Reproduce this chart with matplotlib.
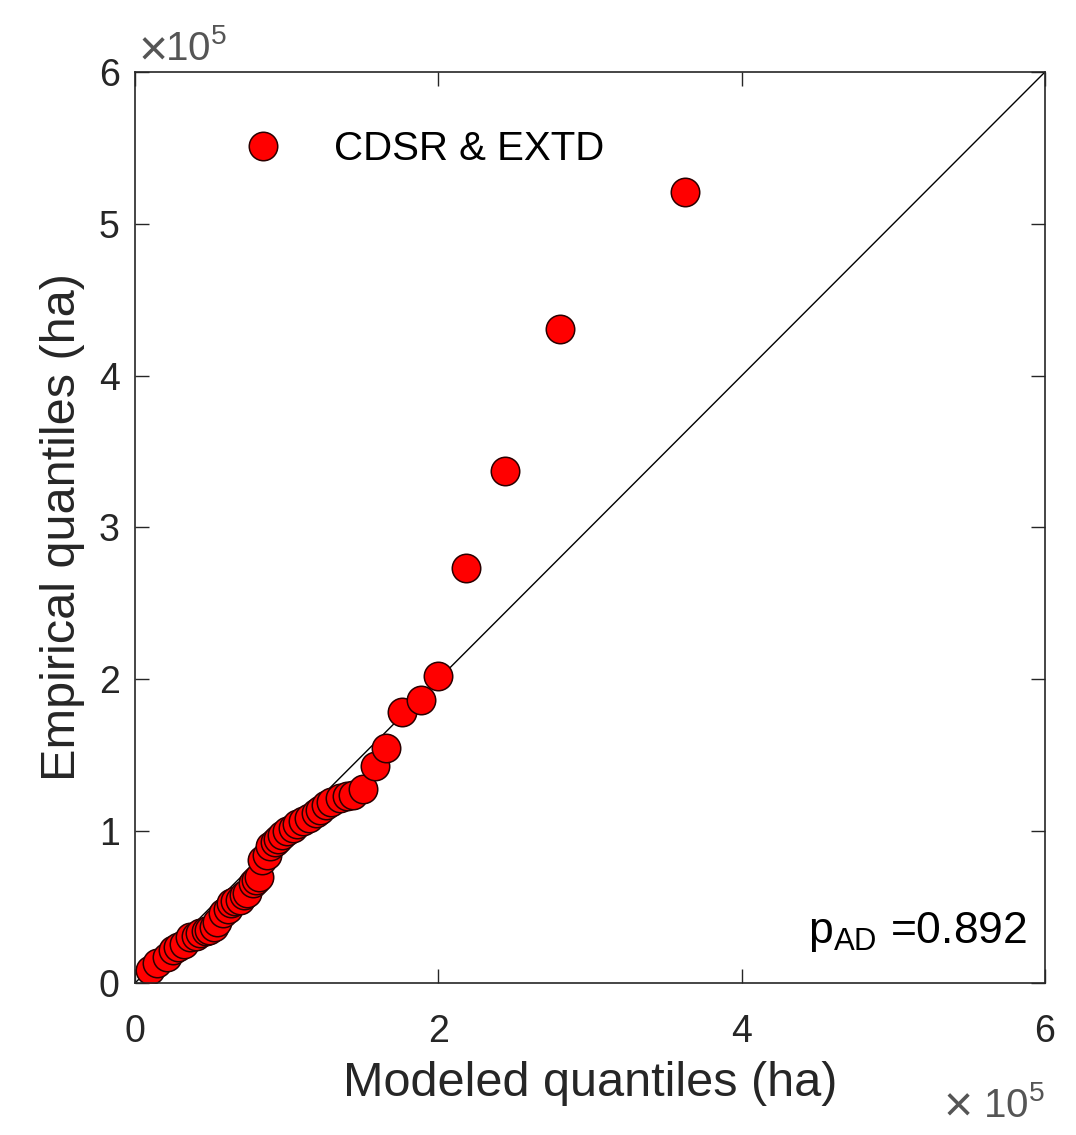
import matplotlib.pyplot as plt

plt.rcParams['font.family'] = ['Liberation Sans', 'DejaVu Sans']
plt.rcParams['mathtext.fontset'] = 'custom'
plt.rcParams['mathtext.rm'] = 'Liberation Sans'

# quantile pairs, in units of 1e5 ha
modeled = [0.10, 0.145, 0.21, 0.25, 0.28, 0.32, 0.36, 0.40, 0.43, 0.47, 0.49, 0.52,
           0.54, 0.58, 0.61, 0.63, 0.66, 0.69, 0.72, 0.74, 0.78, 0.80, 0.82, 0.84,
           0.87, 0.89, 0.92, 0.94, 0.97, 1.00, 1.04, 1.07, 1.11, 1.15, 1.19, 1.22,
           1.26, 1.29, 1.35, 1.40, 1.44, 1.50, 1.58, 1.655, 1.76, 1.885, 2.00,
           2.18, 2.44, 2.80, 3.626]
empirical = [0.085, 0.13, 0.17, 0.22, 0.24, 0.26, 0.30, 0.31, 0.33, 0.34, 0.35, 0.37,
             0.40, 0.46, 0.49, 0.53, 0.54, 0.55, 0.58, 0.59, 0.66, 0.68, 0.70, 0.81,
             0.84, 0.90, 0.93, 0.95, 0.975, 1.00, 1.02, 1.05, 1.07, 1.09, 1.12, 1.14,
             1.17, 1.19, 1.22, 1.23, 1.24, 1.28, 1.43, 1.55, 1.785, 1.864, 2.02,
             2.73, 3.37, 4.31, 5.211]
p_ad = 0.892

grey = '#262626'
exp_grey = '#555555'

fig = plt.figure(figsize=(10.76, 11.35), dpi=100)
ax = fig.add_axes([0.1255, 0.1339, 0.8457, 0.8027])

ax.plot([0, 6], [0, 6], color='black', lw=1.0, zorder=1)
ax.plot(modeled, empirical, 'o', ls='none', ms=20.5, mfc='#ff0000', mec='#2a0000',
        mew=1.1, label='CDSR & EXTD', zorder=2)

ax.set_xlim(0, 6)
ax.set_ylim(0, 6)
ax.set_xticks([0, 2, 4, 6])
ax.set_yticks([0, 1, 2, 3, 4, 5, 6])
ax.tick_params(direction='in', length=10, width=1.0, top=True, right=True,
               labelsize=27, colors=grey)
ax.tick_params(axis='x', pad=22)
ax.tick_params(axis='y', pad=11)
for s in ax.spines.values():
    s.set_color(grey)
    s.set_linewidth(1.2)

ax.set_xlabel('Modeled quantiles (ha)', fontsize=35, color=grey, labelpad=8)
ax.set_ylabel('Empirical quantiles (ha)', fontsize=35, color=grey, labelpad=10)

# exponent labels: a large cross followed by 10^5
ax.text(0.033, 1.013, '10$^{5}$', transform=ax.transAxes, fontsize=29,
        color=exp_grey, ha='left', va='baseline')
ax.text(0.004, 1.007, '×', transform=ax.transAxes, fontsize=36,
        color=exp_grey, ha='left', va='baseline')
ax.text(1.0, -0.147, '10$^{5}$', transform=ax.transAxes, fontsize=29,
        color=exp_grey, ha='right', va='baseline')
ax.text(0.889, -0.152, '×', transform=ax.transAxes, fontsize=36,
        color=exp_grey, ha='left', va='baseline')

ax.text(0.98, 0.044, r'p$_{\mathrm{AD}}$ =%.3f' % p_ad, transform=ax.transAxes,
        fontsize=32, color='black', ha='right', va='baseline')

leg = ax.legend(loc='center left', bbox_to_anchor=(0.09, 0.915), frameon=False,
                fontsize=29, markerscale=1.0, handletextpad=1.0, borderaxespad=0,
                handlelength=1.5)

fig.savefig('out.png', dpi=100, facecolor='white')
